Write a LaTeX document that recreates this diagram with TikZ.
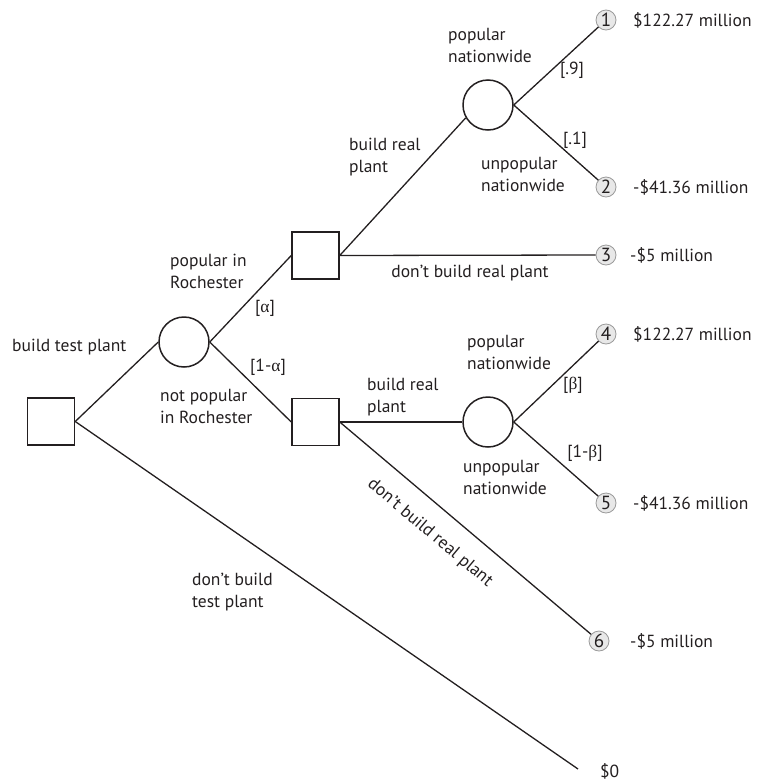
\documentclass[tikz,border=0pt]{standalone}
\usepackage{fontspec}
\setmainfont{PT Sans}
\newfontfamily\grk{Liberation Serif}
\definecolor{txt}{HTML}{231F20}
\definecolor{endfill}{HTML}{E8E8E8}
\definecolor{enddraw}{HTML}{9A9A9A}
\tikzset{
  dec/.style={draw=txt, line width=1.5pt, minimum size=47pt, inner sep=0pt, rectangle},
  chance/.style={draw=txt, line width=1.5pt, minimum size=50pt, inner sep=0pt, circle},
  endn/.style={draw=enddraw, fill=endfill, line width=0.8pt, minimum size=20pt, inner sep=0pt, circle, text=txt, font=\fontsize{19}{19}\selectfont},
  lbl/.style={inner sep=0pt, align=left, text=txt, font=\fontsize{17.5}{22}\selectfont},
  val/.style={lbl, anchor=west},
  br/.style={line width=1.3pt, draw=txt}
}
\begin{document}
\begin{tikzpicture}[x=1pt, y=-1pt]
\useasboundingbox (0,0) rectangle (757,782);
% decision and chance nodes
\node[dec] (A) at (51,421.5) {};
\node[chance] (B) at (184,342) {};
\node[dec] (C) at (315.5,255.5) {};
\node[dec] (D) at (315.5,422) {};
\node[chance] (E) at (488,105) {};
\node[chance] (F) at (488,422) {};
% end nodes
\node[endn] (n1) at (606,20) {1};
\node[endn] (n2) at (606,187) {2};
\node[endn] (n3) at (606,255) {3};
\node[endn] (n4) at (606,334) {4};
\node[endn] (n5) at (606,503) {5};
\node[endn] (n6) at (599,641) {6};
\coordinate (z) at (578,769);
% connectors
\draw[br] (A.east) -- (B.west);
\draw[br] (A.east) -- (z);
\draw[br] (B.east) -- (C.west);
\draw[br] (B.east) -- (D.west);
\draw[br] (C.east) -- (E.210);
\draw[br] (C.east) -- (n3.west);
\draw[br] (E.east) -- (n1);
\draw[br] (E.east) -- (n2);
\draw[br] (D.east) -- (F.west);
\draw[br] (D.east) -- (n6);
\draw[br] (F.east) -- (n4);
\draw[br] (F.east) -- (n5);
% payoffs
\node[val] (v1) at (633,20) {\$122.27 million};
\node[val] (v2) at (633,187) {-\$41.36 million};
\node[val] (v3) at (630,255) {-\$5 million};
\node[val] (v4) at (633,334) {\$122.27 million};
\node[val] (v5) at (633,503) {-\$41.36 million};
\node[val] (v6) at (630,641) {-\$5 million};
\node[val] (v0) at (600,771) {\$0};
% branch labels
\node[lbl, anchor=west] (l1) at (12,347) {build test plant};
\node[lbl, anchor=west] (l2) at (170,271) {popular in\\Rochester};
\node[lbl] (l3) at (265,308) {[{\grk α}]};
\node[lbl] (l4) at (268,367) {[1-{\grk α}]};
\node[lbl, anchor=west] (l5) at (160,406) {not popular\\in Rochester};
\node[lbl, anchor=west] (l6) at (349,157) {build real\\plant};
\node[lbl] (l7) at (470,273) {don't build real plant};
\node[lbl, anchor=west] (l8) at (448,45) {popular\\nationwide};
\node[lbl] (l9) at (572,70) {[.9]};
\node[lbl] (l10) at (575,140) {[.1]};
\node[lbl, anchor=west] (l11) at (481,174) {unpopular\\nationwide};
\node[lbl, anchor=west] (l12) at (367,397) {build real\\plant};
\node[lbl, anchor=west] (l13) at (467,352) {popular\\nationwide};
\node[lbl] (l14) at (573,385) {[{\grk β}]};
\node[lbl] (l15) at (585,453) {[1-{\grk β}]};
\node[lbl, anchor=west] (l16) at (463,477) {unpopular\\nationwide};
\node[lbl, rotate=-40] (l17) at (430,533) {don't build real plant};
\node[lbl, anchor=west] (l18) at (192,592) {don't build\\test plant};
\end{tikzpicture}
\end{document}
